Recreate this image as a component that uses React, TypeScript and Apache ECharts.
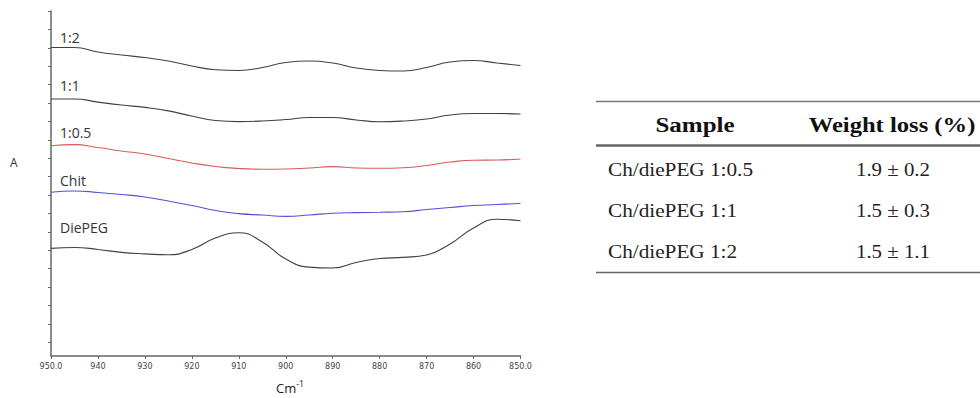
import React, { useEffect, useRef } from "react";
import * as echarts from "echarts";

const wavenumbers = [950, 945, 940, 935, 930, 925, 920, 915, 910, 905, 900, 895, 890, 885, 880, 875, 870, 865, 860, 855, 850];
const s12 = [16.77, 16.77, 16.52, 16.36, 16.22, 16.03, 15.76, 15.56, 15.52, 15.68, 15.95, 16.03, 15.92, 15.65, 15.52, 15.49, 15.68, 15.98, 16.06, 15.92, 15.79];
const s11 = [13.97, 13.97, 13.8, 13.64, 13.51, 13.32, 13.04, 12.8, 12.74, 12.77, 12.85, 12.96, 12.96, 12.83, 12.73, 12.77, 12.88, 13.1, 13.18, 13.18, 13.15];
const s105 = [11.43, 11.49, 11.33, 11.14, 10.98, 10.73, 10.49, 10.3, 10.19, 10.15, 10.16, 10.22, 10.29, 10.22, 10.2, 10.23, 10.35, 10.54, 10.64, 10.65, 10.71];
const chit = [8.9, 8.97, 8.89, 8.78, 8.64, 8.42, 8.18, 7.91, 7.74, 7.66, 7.59, 7.66, 7.76, 7.79, 7.81, 7.84, 7.96, 8.07, 8.18, 8.23, 8.3];
const diePEG = [5.85, 5.9, 5.79, 5.63, 5.55, 5.5, 5.79, 6.41, 6.7, 6.2, 5.27, 4.83, 4.78, 5.08, 5.3, 5.36, 5.49, 6.09, 6.96, 7.43, 7.35];

const seriesNames = ["1:2", "1:1", "1:0.5", "Chit", "DiePEG"];
const seriesValues = [s12, s11, s105, chit, diePEG];
const seriesColors = ["#404040", "#404040", "#d85a5a", "#5252d8", "#404040"];
const curveLabelTops = [37, 85, 132, 180, 227];

const yTicks = [18.75, 17.75, 16.75, 15.75, 14.75, 13.75, 12.75, 11.75, 10.75, 9.75, 8.75, 7.75, 6.75, 5.75, 4.75, 3.75, 2.75, 1.75, 0.75];

const tableHeader = ["Sample", "Weight loss (%)"];
const tableSamples = ["Ch/diePEG 1:0.5", "Ch/diePEG 1:1", "Ch/diePEG 1:2"];
const tableValues = ["1.9 ± 0.2", "1.5 ± 0.3", "1.5 ± 1.1"];

export default function App() {
  const ref = useRef<HTMLDivElement>(null);
  useEffect(() => {
    if (!ref.current) return;
    const chart = echarts.init(ref.current, null, { renderer: "svg" });
    const serif = "'Liberation Serif', 'Times New Roman', serif";
    const sans = "'Open Sans', 'Noto Sans', sans-serif";
    const rowTops = [170, 211, 252];
    const graphic: any[] = [];
    seriesNames.forEach((n, i) => {
      graphic.push({
        type: "text", x: 60, y: curveLabelTops[i],
        style: { text: n, font: `14px ${sans}`, fill: "#333", verticalAlign: "middle" },
      });
    });
    graphic.push({ type: "text", x: 10, y: 162, style: { text: "A", font: `12px ${sans}`, fill: "#333", verticalAlign: "middle" } });
    graphic.push({
      type: "text", x: 276, y: 388,
      style: {
        text: "{a|Cm}{b|-1}", verticalAlign: "middle",
        rich: { a: { font: `13px ${sans}`, fill: "#222" }, b: { font: `9px ${sans}`, fill: "#222", verticalAlign: "top", padding: [0, 0, 10, 0] } },
      },
    });
    // table rules
    graphic.push({ type: "line", shape: { x1: 596, y1: 101.5, x2: 980, y2: 101.5 }, style: { stroke: "#777", lineWidth: 1.5 } });
    graphic.push({ type: "line", shape: { x1: 596, y1: 145.5, x2: 980, y2: 145.5 }, style: { stroke: "#666", lineWidth: 2.5 } });
    graphic.push({ type: "line", shape: { x1: 596, y1: 272.5, x2: 980, y2: 272.5 }, style: { stroke: "#666", lineWidth: 1.5 } });
    graphic.push({ type: "text", x: 695, y: 125, scaleX: 1.25, style: { text: tableHeader[0], font: `bold 20px ${serif}`, fill: "#111", align: "center", verticalAlign: "middle" } });
    graphic.push({ type: "text", x: 892, y: 125, scaleX: 1.23, style: { text: tableHeader[1], font: `bold 20px ${serif}`, fill: "#111", align: "center", verticalAlign: "middle" } });
    tableSamples.forEach((s, i) => {
      graphic.push({ type: "text", x: 608, y: rowTops[i], scaleX: 1.18, style: { text: s, font: `18px ${serif}`, fill: "#222", verticalAlign: "middle" } });
      graphic.push({ type: "text", x: 893, y: rowTops[i], scaleX: 1.16, style: { text: tableValues[i], font: `18px ${serif}`, fill: "#222", align: "center", verticalAlign: "middle" } });
    });

    chart.setOption({
      animation: false,
      grid: { left: 51, right: 459.5, top: 11, bottom: 42, containLabel: false },
      xAxis: {
        type: "value", min: 850, max: 950, interval: 10, inverse: true,
        splitLine: { show: false },
        axisLine: { lineStyle: { color: "#666", width: 1.5 } },
        axisTick: { length: 3, lineStyle: { color: "#666" } },
        axisLabel: {
          fontSize: 8, color: "#444", margin: 6, fontFamily: "'DejaVu Sans', sans-serif",
          formatter: (v: number) => (v === 950 || v === 850 ? v.toFixed(1) : String(v)),
        },
      },
      yAxis: {
        type: "value", min: 0, max: 18.75,
        splitLine: { show: false },
        axisLine: { show: true, lineStyle: { color: "#666", width: 1.5 } },
        axisTick: { show: true, length: 3, customValues: yTicks, lineStyle: { color: "#666" } },
        axisLabel: { show: false },
      },
      series: seriesNames.map((n, i) => ({
        name: n, type: "line", smooth: 0.5, symbol: "none",
        data: wavenumbers.map((w, j) => [w, seriesValues[i][j]]),
        lineStyle: { width: 1.1, color: seriesColors[i] },
      })),
      graphic,
    });
    return () => chart.dispose();
  }, []);
  return <div ref={ref} style={{ width: 980, height: 398, position: "absolute", left: 0, top: 0 }} />;
}
